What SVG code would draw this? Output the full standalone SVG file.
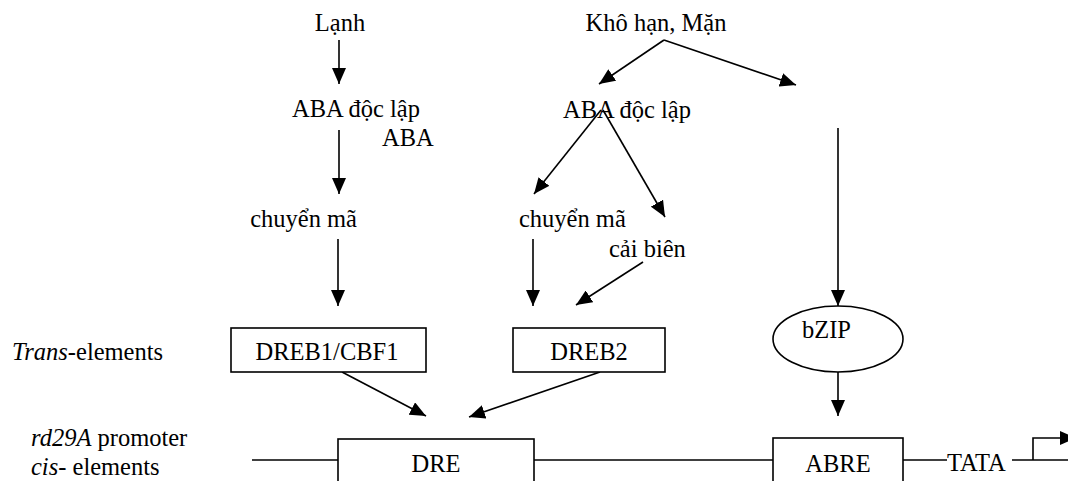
<svg xmlns="http://www.w3.org/2000/svg" width="1068" height="481" viewBox="0 0 1068 481" font-family="'Liberation Serif', 'Times New Roman', 'DejaVu Serif', serif" font-size="24.5">
<style>
.t{font-family:'Liberation Serif','Times New Roman','DejaVu Serif',serif;font-size:24.5px;fill:#000}
.c{stroke:#000;stroke-width:1.6;fill:none}
.a{stroke:#000;stroke-width:1.6;fill:none;marker-end:url(#ah)}
.box{stroke:#000;stroke-width:1.6;fill:#fff}
</style>
<defs>
<marker id="ah" viewBox="0 0 16 14" refX="16" refY="7" markerWidth="16" markerHeight="14" markerUnits="userSpaceOnUse" orient="auto">
<path d="M0,0 L16,7 L0,14 z" fill="#000"/>
</marker>
</defs>
<rect width="1068" height="481" fill="#fff"/>
<g id="labels">
<text class="t" x="12" y="360"><tspan font-style="italic">Trans</tspan>-elements</text>
<text class="t" x="31" y="446"><tspan font-style="italic">rd29A</tspan> promoter</text>
<text class="t" x="31" y="475"><tspan font-style="italic">cis</tspan>- elements</text>
</g>
<g id="connectors">
<line class="a" x1="339" y1="40" x2="339" y2="84"/>
<line class="a" x1="339" y1="130" x2="339" y2="194"/>
<line class="a" x1="338" y1="239" x2="338" y2="306"/>
<line class="a" x1="664" y1="40" x2="599" y2="84"/>
<line class="a" x1="664" y1="40" x2="796" y2="85"/>
<line class="a" x1="601" y1="110" x2="534" y2="194"/>
<line class="a" x1="603" y1="110" x2="665" y2="217"/>
<line class="a" x1="533" y1="239" x2="533" y2="306"/>
<line class="a" x1="643" y1="262" x2="576" y2="305"/>
<line class="a" x1="838" y1="128" x2="838" y2="306"/>
<line class="a" x1="342" y1="372" x2="426" y2="416"/>
<line class="a" x1="600" y1="372" x2="469" y2="417"/>
<line class="a" x1="838" y1="372" x2="838" y2="416"/>
<line class="c" x1="252" y1="460" x2="338" y2="460"/>
<line class="c" x1="534" y1="460" x2="773" y2="460"/>
<line class="c" x1="903" y1="460" x2="947" y2="460"/>
<line class="c" x1="1012" y1="460" x2="1068" y2="460"/>
<polyline class="a" points="1033,460 1033,438 1076,438"/>
</g>
<g id="n-lanh"><text class="t" x="340" y="31" text-anchor="middle">Lạnh</text></g>
<g id="n-khohan"><text class="t" x="656" y="31" text-anchor="middle">Khô hạn, Mặn</text></g>
<g id="n-aba1"><text class="t" x="292" y="117">ABA độc lập</text><text class="t" x="382" y="146">ABA</text></g>
<g id="n-aba2"><text class="t" x="563" y="118">ABA độc lập</text></g>
<g id="n-chuyenma1"><text class="t" x="357" y="227" text-anchor="end">chuyển mã</text></g>
<g id="n-chuyenma2"><text class="t" x="519" y="227">chuyển mã</text></g>
<g id="n-caibien"><text class="t" x="609" y="257">cải biên</text></g>
<g id="n-dreb1"><rect class="box" x="231" y="328" width="195" height="44"/><text class="t" x="327" y="360" text-anchor="middle">DREB1/CBF1</text></g>
<g id="n-dreb2"><rect class="box" x="513" y="328" width="152" height="44"/><text class="t" x="589" y="360" text-anchor="middle">DREB2</text></g>
<g id="n-bzip"><ellipse class="box" cx="838" cy="339" rx="65" ry="33"/><text class="t" x="802" y="338">bZIP</text></g>
<g id="n-dre"><rect class="box" x="338" y="439" width="196" height="60"/><text class="t" x="436" y="472" text-anchor="middle">DRE</text></g>
<g id="n-abre"><rect class="box" x="773" y="438" width="130" height="60"/><text class="t" x="838" y="472" text-anchor="middle">ABRE</text></g>
<g id="n-tata"><text class="t" x="947" y="471">TATA</text></g>
</svg>
